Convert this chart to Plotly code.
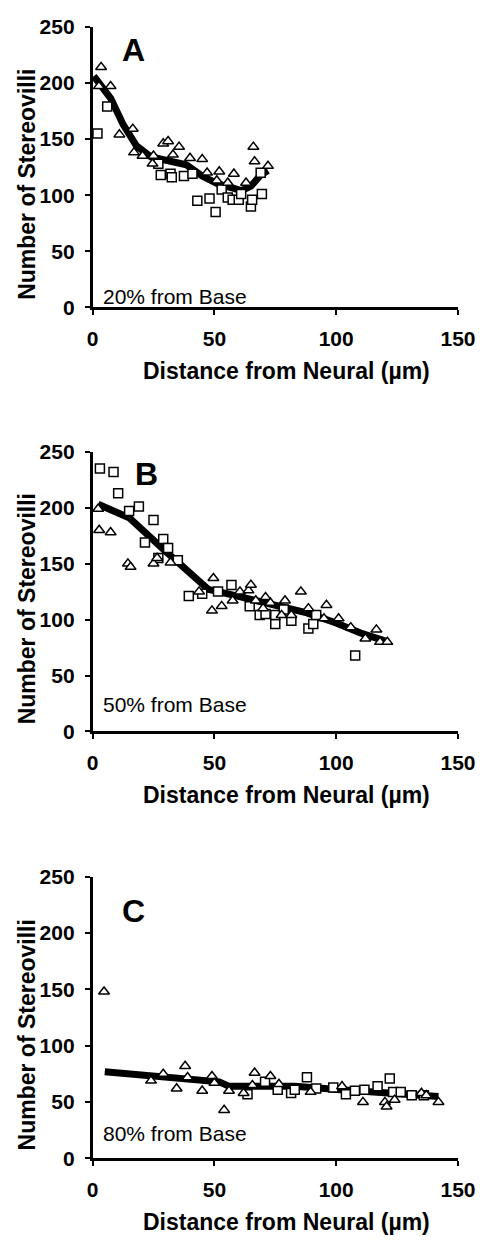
import plotly.graph_objects as go

W, H = 495, 1247

# ---------------- Data ----------------
# Panel A: 20% from base
A_tri_x = [2.6, 3.5, 7.4, 11, 16.5, 17, 20.5, 24.6, 25, 29, 31, 33, 35.5, 40, 45, 47, 51, 52, 55.5, 58, 63, 66, 66.5, 72]
A_tri_y = [197, 214, 197, 154, 159, 138, 135, 128, 135, 146, 148, 136, 143, 133, 132, 120, 113, 121, 111, 119, 111, 143, 130, 126]
A_sq_x = [2, 6, 27, 28, 32, 32.5, 37.5, 41, 43, 48, 50.5, 53, 55.5, 57.5, 60, 61, 65, 65.5, 69, 69.5]
A_sq_y = [155, 179, 128, 118, 119, 116, 117, 119, 95, 97, 85, 105, 98, 96, 96, 101, 90, 96, 120, 101]
A_line_x = [0.5, 7.5, 12.5, 18, 24, 32, 38.5, 45, 51.5, 58, 61, 65, 69, 72]
A_line_y = [206, 186, 163, 144, 134, 130, 127, 117, 110, 106, 104, 108, 118, 122]

# Panel B: 50% from base
B_tri_x = [2.3, 2.7, 7.4, 14.5, 15.6, 25, 26.5, 32, 43.7, 49.6, 49, 53, 57.5, 60.5, 64, 65, 67, 71, 73, 70, 79, 77.6, 81.6, 85.5, 88.6, 96, 95, 101, 106, 112, 116.5, 118, 121]
B_tri_y = [199, 180, 178, 150, 147, 150, 155, 151, 125, 137, 108, 112, 117, 125, 126, 131, 117, 120, 115, 110, 117, 104, 104, 125, 110, 113, 101, 101, 93, 83, 91, 80, 80]
B_sq_x = [3, 8.6, 10.5, 15, 19, 25, 21.5, 29, 31, 27, 35, 39.5, 45, 51.5, 57, 64.5, 68.6, 71, 75, 75, 78.5, 81.6, 88.6, 90.6, 91.8, 107.8]
B_sq_y = [235, 232, 213, 197, 201, 189, 169, 172, 164, 155, 153, 121, 123, 125, 131, 112, 104, 105, 96, 104, 109, 99, 92, 96, 104, 68]
B_line_x = [2.3, 15, 30, 47.5, 59.5, 77.5, 88, 100, 110, 120]
B_line_y = [203, 191, 161, 127, 121, 112, 106, 97, 88, 81]

# Panel C: 80% from base
C_tri_x = [4.7, 24, 29, 34.5, 38, 39, 45, 49, 50, 54, 56, 62, 65.6, 66.5, 73, 76.5, 89.5, 102.4, 111, 120, 120.7, 124, 135, 137, 142]
C_tri_y = [148, 69, 75, 62, 82, 72, 60, 73, 67, 43, 60, 58, 65, 76, 73, 66, 59, 64, 50, 50, 46, 52, 58, 56, 50]
C_sq_x = [63.6, 70.8, 76, 81.5, 83, 88, 91.8, 98.8, 104, 107.7, 111.6, 117, 122, 123.4, 126.5, 131, 136]
C_sq_y = [57, 68, 61, 58, 61, 72, 62, 63, 57, 60, 61, 64, 71, 59, 59, 56, 56]
C_line_x = [5, 52, 56, 76, 83, 102, 122, 142]
C_line_y = [77, 68, 64, 65, 64, 61, 58, 55]

panel_letters = ["A", "B", "C"]
panel_labels = ["20% from Base", "50% from Base", "80% from Base"]
x_title = "Distance from Neural (µm)"
y_title = "Number of Stereovilli"
x_ticks = [0, 50, 100, 150]
y_ticks = [0, 50, 100, 150, 200, 250]

# ---------------- Layout geometry (pixels) ----------------
x_left_px, x_right_px = 91, 475
panels_px = [(15, 301), (448, 733), (881, 1168)]  # (top, bottom) of y axis
letter_pos = [(16.8, 229), (22, 230), (17, 219.5)]
label_y = [9.5, 24.5, 22]

FONT = "Liberation Sans, Arial, sans-serif"

fig = go.Figure()

data = [
    (A_tri_x, A_tri_y, A_sq_x, A_sq_y, A_line_x, A_line_y),
    (B_tri_x, B_tri_y, B_sq_x, B_sq_y, B_line_x, B_line_y),
    (C_tri_x, C_tri_y, C_sq_x, C_sq_y, C_line_x, C_line_y),
]

annotations = []
for i, (tx, ty, sx, sy, lx, ly) in enumerate(data):
    xa = "x" if i == 0 else f"x{i+1}"
    ya = "y" if i == 0 else f"y{i+1}"
    fig.add_trace(go.Scatter(x=lx, y=ly, mode="lines", xaxis=xa, yaxis=ya,
                             line=dict(color="black", width=7), hoverinfo="skip"))
    fig.add_trace(go.Scatter(x=sx, y=sy, mode="markers", xaxis=xa, yaxis=ya,
                             marker=dict(symbol="square", size=9, color="white",
                                         line=dict(color="black", width=1.5))))
    fig.add_trace(go.Scatter(x=tx, y=ty, mode="markers", xaxis=xa, yaxis=ya,
                             marker=dict(symbol="triangle-up", size=9.5, color="white",
                                         line=dict(color="black", width=1.5))))
    top, bot = panels_px[i]
    dom_y = [1 - bot / H, 1 - top / H]
    axis_common = dict(showgrid=False, zeroline=False, showline=True, linecolor="black",
                       linewidth=2.5, ticks="outside", ticklen=5, tickwidth=2, tickcolor="black",
                       tickfont=dict(family=FONT, size=21, color="black", weight="bold"))
    fig.update_layout(**{
        ("xaxis" if i == 0 else f"xaxis{i+1}"): dict(
            domain=[x_left_px / W, x_right_px / W], range=[0, 150], tickvals=x_ticks,
            anchor=ya, ticklabelstandoff=6, **axis_common),
        ("yaxis" if i == 0 else f"yaxis{i+1}"): dict(
            domain=dom_y, range=[0, 250], tickvals=y_ticks, anchor=xa,
            ticklabelstandoff=6, **axis_common),
    })
    # panel letter
    annotations.append(dict(x=letter_pos[i][0], y=letter_pos[i][1], xref=xa, yref=ya,
                            text=f"<b>{panel_letters[i]}</b>", showarrow=False,
                            font=dict(family=FONT, size=32, color="black"),
                            xanchor="center", yanchor="middle"))
    # inside label
    annotations.append(dict(x=3.5, y=label_y[i], xref=xa, yref=ya, text=panel_labels[i],
                            showarrow=False, font=dict(family=FONT, size=21, color="black"),
                            xanchor="left", yanchor="middle"))
    # y title
    ymid_px = bot - 110 * (bot - top) / 250
    annotations.append(dict(x=22 / W, y=1 - ymid_px / H, xref="paper", yref="paper",
                            text=f"<b>{y_title}</b>", textangle=-90, showarrow=False,
                            font=dict(family=FONT, size=23, color="black"),
                            xanchor="center", yanchor="middle"))
    # x title
    annotations.append(dict(x=295 / W, y=1 - (bot + 65) / H, xref="paper", yref="paper",
                            text=f"<b>{x_title}</b>", showarrow=False,
                            font=dict(family=FONT, size=23, color="black"),
                            xanchor="center", yanchor="middle"))

fig.update_layout(width=W, height=H, margin=dict(l=0, r=0, t=0, b=0),
                  paper_bgcolor="white", plot_bgcolor="white", showlegend=False,
                  annotations=annotations)

fig.write_html("out.html")
